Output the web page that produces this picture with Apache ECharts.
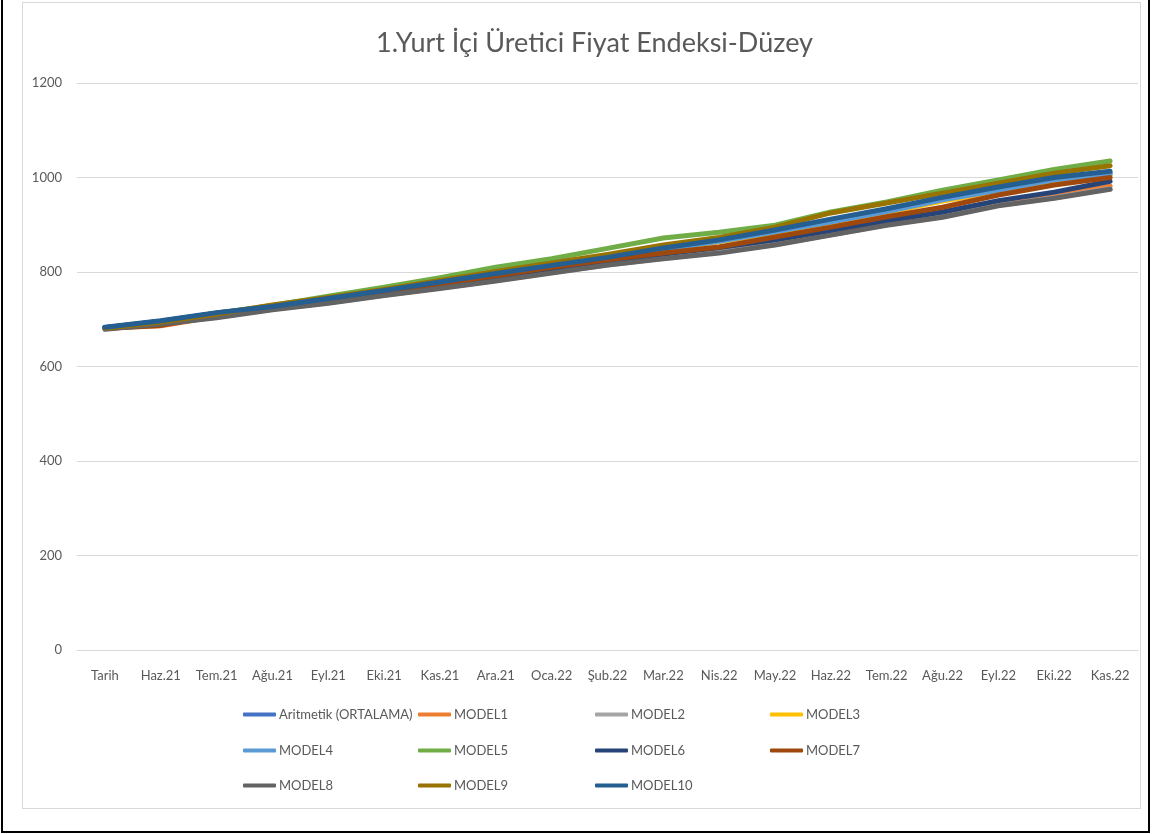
<!DOCTYPE html>
<html>
<head>
<meta charset="utf-8">
<script src="https://cdn.jsdelivr.net/npm/echarts@6/dist/echarts.min.js"></script>
<style>
  html, body { margin: 0; padding: 0; background: #fff; }
  #wrap { position: relative; width: 1153px; height: 834px; overflow: hidden; }
  #chart { position: absolute; left: 0; top: 0; width: 1153px; height: 834px; }
  .frame-outer { position: absolute; left: 1px; top: -3px; width: 1145px; height: 832px; border: 2px solid #000; pointer-events: none; }
  .frame-inner { position: absolute; left: 22px; top: 2px; width: 1117px; height: 805px; border: 1px solid #d9d9d9; pointer-events: none; }
</style>
</head>
<body>
<div id="wrap">
  <div id="chart"></div>
  <div class="frame-inner"></div>
  <div class="frame-outer"></div>
</div>
<script>
// Months on the category axis
const categories = ['Tarih', 'Haz.21', 'Tem.21', 'Ağu.21', 'Eyl.21', 'Eki.21', 'Kas.21', 'Ara.21', 'Oca.22',
  'Şub.22', 'Mar.22', 'Nis.22', 'May.22', 'Haz.22', 'Tem.22', 'Ağu.22', 'Eyl.22', 'Eki.22', 'Kas.22'];

// Index level per model
const aritmetik = [682, 696, 713, 726, 743, 760, 778, 796, 813, 830, 850, 867, 888, 910, 932, 956, 978, 998, 1010];
const model1 = [681, 686, 706, 722, 738, 754, 771, 787, 803, 820, 836, 849, 864, 884, 905, 924, 944, 962, 982];
const model2 = [680, 691, 704, 721, 735, 751, 766, 782, 799, 815, 829, 842, 858, 879, 900, 917, 941, 957, 976];
const model3 = [682, 695, 712, 726, 742, 759, 776, 794, 811, 828, 847, 864, 883, 904, 926, 950, 970, 992, 1004];
const model4 = [682, 696, 713, 726, 743, 760, 777, 795, 812, 829, 848, 865, 885, 906, 928, 953, 973, 995, 1007];
const model5 = [682, 696, 713, 729, 749, 768, 788, 810, 828, 850, 872, 884, 899, 927, 948, 973, 995, 1017, 1035];
const model6 = [682, 695, 710, 725, 741, 756, 773, 790, 806, 822, 838, 852, 868, 888, 908, 927, 951, 969, 992];
const model7 = [681, 687, 707, 724, 740, 757, 775, 792, 810, 826, 840, 853, 874, 895, 917, 937, 963, 984, 1000];
const model8 = [679, 690, 703, 720, 734, 750, 765, 781, 798, 815, 828, 840, 857, 878, 899, 916, 940, 956, 975];
const model9 = [681, 694, 711, 730, 746, 763, 782, 801, 819, 837, 857, 873, 895, 925, 946, 967, 988, 1009, 1025];
const model10 = [683, 697, 714, 727, 744, 761, 779, 797, 814, 831, 851, 868, 889, 912, 934, 958, 980, 1000, 1013];

const seriesNames = ['Aritmetik (ORTALAMA)', 'MODEL1', 'MODEL2', 'MODEL3', 'MODEL4', 'MODEL5',
  'MODEL6', 'MODEL7', 'MODEL8', 'MODEL9', 'MODEL10'];
const seriesData = [aritmetik, model1, model2, model3, model4, model5, model6, model7, model8, model9, model10];
const colors = ['#4472C4', '#ED7D31', '#A5A5A5', '#FFC000', '#5B9BD5', '#70AD47',
  '#264478', '#9E480E', '#636363', '#997300', '#255E91'];

// Legend grid: 4 columns, 3 rows
const legendCols = [243, 418, 595, 770];
const legendRows = [708, 744, 779];

const textColor = '#595959';
const font = 'Lato, "Open Sans", sans-serif';

const legends = seriesNames.map((name, i) => ({
  data: [name],
  left: legendCols[i % 4],
  top: legendRows[Math.floor(i / 4)],
  icon: 'roundRect',
  itemWidth: 33,
  itemHeight: 4,
  itemGap: 0,
  padding: 0,
  textStyle: { color: textColor, fontFamily: font, fontSize: 13, padding: [0, 0, 0, -2] }
}));

const chart = echarts.init(document.getElementById('chart'), null, { renderer: 'canvas' });
chart.setOption({
  animation: false,
  color: colors,
  title: {
    text: '1.Yurt İçi Üretici Fiyat Endeksi-Düzey',
    left: 371,
    top: 25,
    textStyle: { color: textColor, fontFamily: font, fontSize: 27, fontWeight: 'normal' }
  },
  legend: legends,
  grid: { left: 77, right: 15, top: 83, bottom: 184, containLabel: false },
  xAxis: {
    type: 'category',
    data: categories,
    boundaryGap: true,
    axisLine: { show: true, lineStyle: { color: '#d9d9d9', width: 1 } },
    axisTick: { show: false },
    axisLabel: { color: textColor, fontFamily: font, fontSize: 13, margin: 19, interval: 0 }
  },
  yAxis: {
    type: 'value',
    min: 0,
    max: 1200,
    interval: 200,
    axisLine: { show: false },
    axisTick: { show: false },
    splitLine: { lineStyle: { color: '#d9d9d9', width: 1 } },
    axisLabel: { color: textColor, fontFamily: font, fontSize: 13, margin: 15, formatter: v => String(v) }
  },
  series: seriesNames.map((name, i) => ({
    name: name,
    type: 'line',
    data: seriesData[i],
    symbol: 'none',
    smooth: false,
    lineStyle: { width: 5, color: colors[i], cap: 'round', join: 'round' },
    itemStyle: { color: colors[i] }
  }))
});
</script>
</body>
</html>
